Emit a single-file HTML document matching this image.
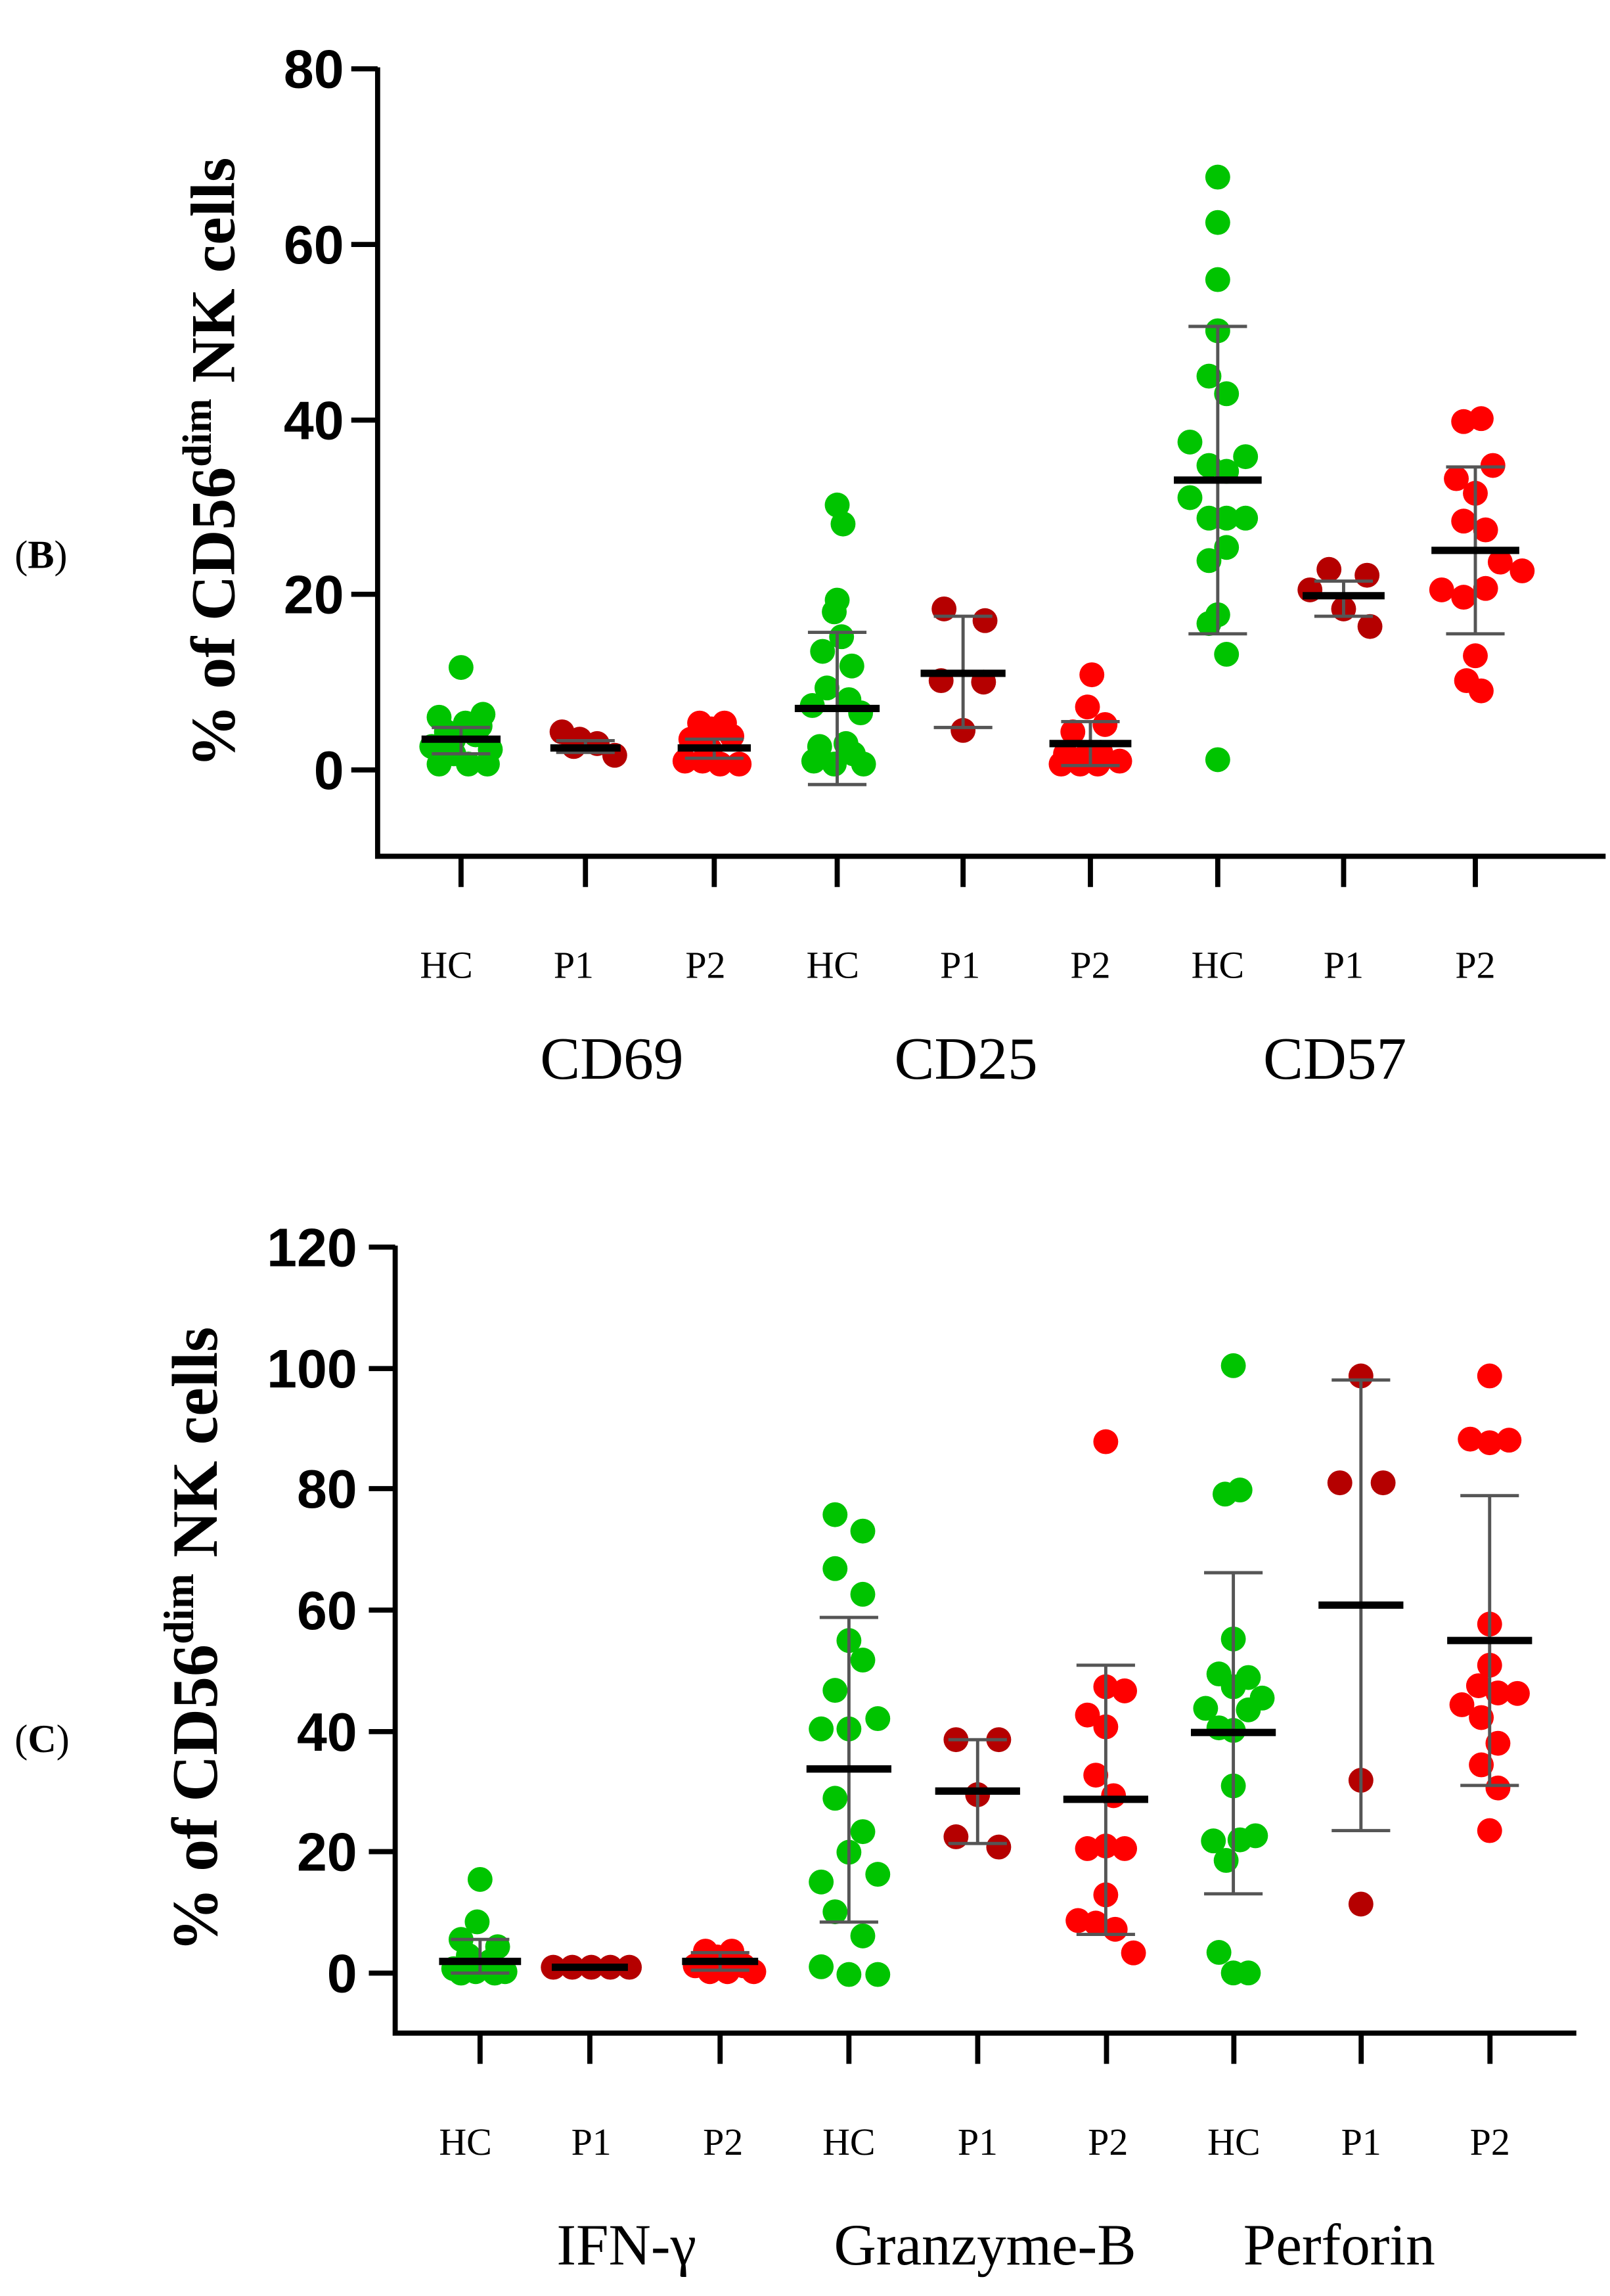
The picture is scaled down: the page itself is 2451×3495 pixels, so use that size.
<!DOCTYPE html>
<html><head><meta charset="utf-8"><style>
html,body{margin:0;padding:0;background:#fff;width:2451px;height:3495px;overflow:hidden}
svg{display:block}
.t{font-family:"Liberation Sans",Arial,sans-serif;font-weight:bold;font-size:37px;fill:#000}
.s{font-family:"Liberation Serif",serif;fill:#000}
</style></head><body>
<svg id="g" width="2451" height="3495" viewBox="0 0 1100 1568.6" preserveAspectRatio="none" xmlns="http://www.w3.org/2000/svg">
<rect width="1100" height="1569" fill="#fff"/>
<g stroke="#000" stroke-width="3.5" fill="none">
<path d="M258,46 V585 H1097"/>
<path d="M240,47H258 M240,167H258 M240,287H258 M240,406H258 M240,526H258"/>
<path d="M315,585V606 M400,585V606 M488,585V606 M572,585V606 M658,585V606 M745,585V606 M832,585V606 M918,585V606 M1008,585V606"/>
</g>
<g class="t" text-anchor="end">
<text x="235" y="60">80</text><text x="235" y="180">60</text><text x="235" y="300">40</text><text x="235" y="419">20</text><text x="235" y="539">0</text>
</g>
<text class="s" font-weight="bold" font-size="43" transform="translate(160,316) rotate(-90)" text-anchor="middle">% of CD56<tspan font-size="28" dy="-16">dim</tspan><tspan dy="16"> NK cells</tspan></text>
<text class="s" font-size="27" x="10" y="388">(<tspan font-weight="bold">B</tspan>)</text>
<g class="s" font-size="26" text-anchor="middle">
<text x="305" y="668">HC</text><text x="392" y="668">P1</text><text x="482" y="668">P2</text>
<text x="569" y="668">HC</text><text x="656" y="668">P1</text><text x="745" y="668">P2</text>
<text x="832" y="668">HC</text><text x="918" y="668">P1</text><text x="1008" y="668">P2</text>
</g>
<g class="s" font-size="41" text-anchor="middle">
<text x="418" y="737">CD69</text><text x="660" y="737">CD25</text><text x="912" y="737">CD57</text>
</g>
<g stroke="#000" stroke-width="3.5" fill="none">
<path d="M270,851 V1389 H1077"/>
<path d="M252,852H270 M252,935H270 M252,1017H270 M252,1100H270 M252,1183H270 M252,1265H270 M252,1348H270"/>
<path d="M328,1389V1410 M403,1389V1410 M492,1389V1410 M580,1389V1410 M668,1389V1410 M756,1389V1410 M843,1389V1410 M930,1389V1410 M1018,1389V1410"/>
</g>
<g class="t" text-anchor="end">
<text x="244" y="865">120</text><text x="244" y="948">100</text><text x="244" y="1030">80</text><text x="244" y="1113">60</text><text x="244" y="1196">40</text><text x="244" y="1278">20</text><text x="244" y="1361">0</text>
</g>
<text class="s" font-weight="bold" font-size="44" transform="translate(148,1120) rotate(-90)" text-anchor="middle">% of CD56<tspan font-size="29" dy="-16">dim</tspan><tspan dy="16"> NK cells</tspan></text>
<text class="s" font-size="27" x="10" y="1197">(<tspan font-weight="bold">C</tspan>)</text>
<g class="s" font-size="26" text-anchor="middle">
<text x="318" y="1472">HC</text><text x="404" y="1472">P1</text><text x="494" y="1472">P2</text>
<text x="580" y="1472">HC</text><text x="668" y="1472">P1</text><text x="757" y="1472">P2</text>
<text x="843" y="1472">HC</text><text x="930" y="1472">P1</text><text x="1018" y="1472">P2</text>
</g>
<g class="s" font-size="40" text-anchor="middle">
<text x="428" y="1547">IFN-γ</text><text x="673" y="1547">Granzyme-B</text><text x="915" y="1547">Perforin</text>
</g>
<g id="pts"></g>
</svg>
<script>
var G="#00c400",D="#b50000",R="#ff0000",r=8.5;
var svg=document.getElementById('pts'),h='';
function dots(c,arr){arr.forEach(function(p){h+='<circle cx="'+p[0]+'" cy="'+p[1]+'" r="'+r+'" fill="'+c+'"/>';});}
function stat(x,m,lo,hi,w){h+='<path d="M'+x+','+hi+'V'+lo+'M'+(x-20)+','+hi+'H'+(x+20)+'M'+(x-20)+','+lo+'H'+(x+20)+'" stroke="#555" stroke-width="2.2" fill="none"/>';
h+='<path d="M'+(x-w)+','+m+'H'+(x+w)+'" stroke="#000" stroke-width="5" />';}
dots(G,[[315,456],[300,490],[330,488],[318,494],[305,500],[325,502],[295,510],[335,512],[310,515],[300,522],[320,522],[333,522],[310,505],[328,496]]);
dots(D,[[384,500],[396,505],[408,508],[420,516],[392,510]]);
dots(R,[[478,494],[495,494],[486,498],[472,505],[500,503],[468,520],[480,520],[492,522],[505,522],[485,512]]);
dots(G,[[572,345],[576,358],[572,410],[570,418],[575,435],[562,445],[582,455],[565,470],[580,478],[555,482],[588,487],[560,510],[578,508],[556,520],[570,522],[590,522],[583,515]]);
dots(D,[[645,416],[673,424],[643,465],[672,466],[658,499]]);
dots(R,[[746,461],[743,483],[733,500],[755,495],[728,515],[740,518],[752,514],[765,520],[738,522],[750,522],[725,522]]);
dots(G,[[832,121],[832,152],[832,191],[832,226],[826,257],[838,269],[813,302],[851,312],[826,318],[838,322],[813,340],[826,354],[838,354],[851,354],[838,374],[826,383],[832,420],[826,426],[838,447],[832,519]]);
dots(D,[[908,389],[934,393],[895,403],[918,416],[936,428]]);
dots(R,[[1000,288],[1012,286],[1020,318],[995,327],[1008,337],[1000,356],[1015,362],[1025,384],[1040,390],[985,403],[1000,408],[1015,402],[1008,448],[1002,465],[1012,472]]);
stat(315,505,515,497,27);stat(400,511,514,506,24);stat(488,511,518,505,25);
stat(572,484,536,432,29);stat(658,460,497,421,29);stat(745,508,523,493,28);
stat(832,328,433,223,30);stat(918,407,421,397,28);stat(1008,376,433,319,30);
dots(G,[[328,1284],[326,1313],[315,1325],[340,1330],[320,1336],[335,1340],[310,1345],[325,1347],[345,1347],[315,1348],[338,1348]]);
dots(D,[[378,1344],[391,1344],[404,1344],[417,1344],[430,1344]]);
dots(R,[[482,1333],[500,1333],[490,1337],[475,1343],[508,1343],[485,1347],[497,1347],[515,1347]]);
var OY=843.5;
function Z(c,arr){dots(c,arr.map(function(p){return [509.9+0.379*p[0],OY+0.351*p[1]];}));}
function ZS(x,m,lo,hi,w){stat(509.9+0.379*x,OY+0.351*m,OY+0.351*lo,OY+0.351*hi,w);}
Z(G,[[160,545],[210,577],[160,650],[210,700],[185,790],[210,828],[160,887],[237,942],[135,962],[185,962],[160,1097],[210,1162],[185,1202],[237,1245],[135,1260],[160,1318],[210,1365],[135,1425],[185,1440],[237,1440]]);
Z(D,[[378,983],[455,983],[417,1090],[378,1172],[455,1192]]);
Z(R,[[648,403],[648,880],[682,888],[615,935],[648,958],[630,1052],[662,1092],[615,1195],[648,1190],[682,1195],[648,1285],[598,1335],[630,1340],[665,1352],[698,1398]]);
Z(G,[[878,255],[863,505],[890,497],[878,787],[852,855],[905,862],[878,880],[930,902],[828,922],[905,925],[852,960],[878,965],[878,1073],[842,1180],[918,1170],[890,1178],[865,1218],[852,1397],[878,1437],[905,1437]]);
Z(D,[[1108,275],[1070,483],[1148,483],[1108,1062],[1108,1303]]);
Z(R,[[1340,275],[1305,398],[1340,405],[1375,400],[1340,758],[1340,838],[1320,878],[1355,892],[1390,893],[1290,915],[1325,940],[1355,990],[1325,1032],[1355,1077],[1340,1160]]);
stat(328,1340,1348,1325,28);stat(403,1344,1344,1344,26);stat(492,1340,1346,1334,26);
ZS(185,1040,1338,745,29);ZS(417,1083,1185,983,29);ZS(648,1099,1362,838,29);
ZS(878,969,1283,658,29);ZS(1108,721,1160,283,29);ZS(1340,790,1072,508,29);
svg.innerHTML=h;
</script>
</body></html>
